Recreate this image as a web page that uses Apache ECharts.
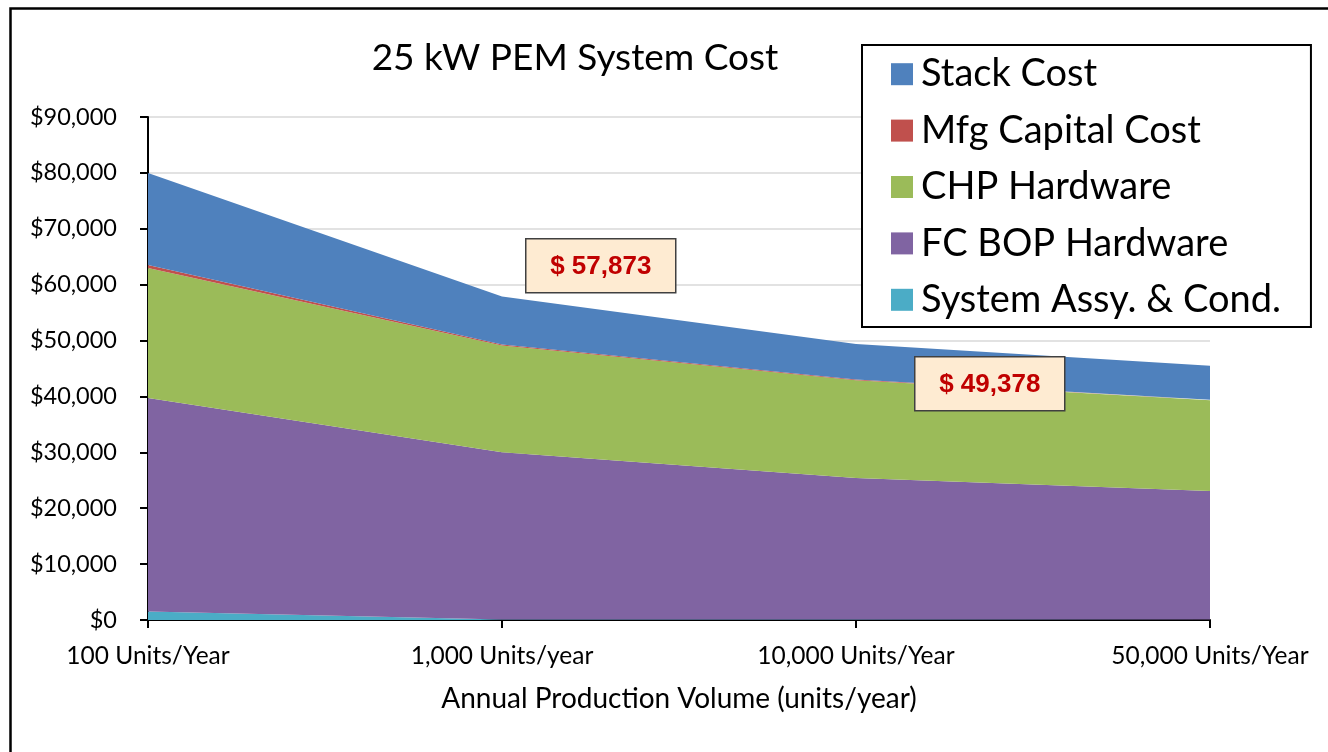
<!DOCTYPE html>
<html>
<head>
<meta charset="utf-8">
<title>25 kW PEM System Cost</title>
<script src="https://cdn.jsdelivr.net/npm/echarts@6/dist/echarts.min.js"></script>
<style>
  html, body { margin: 0; padding: 0; background: #fff; }
  #chart { width: 1328px; height: 752px; }
</style>
</head>
<body>
<div id="chart"></div>
<script>
// production volumes (x categories)
var categories = ['100 Units/Year', '1,000 Units/year', '10,000 Units/Year', '50,000 Units/Year']

// cost components, bottom of the stack first
var systemAssy = [1500, 100, 100, 100]
var fcBop = [38200, 29900, 25300, 23000]
var chpHardware = [23300, 19100, 17500, 16200]
var mfgCapital = [500, 200, 150, 100]
var stackCost = [16500, 8573, 6328, 6100]

// call-out labels
var callouts = ['$ 57,873', '$ 49,378']

var legendOrder = ['Stack Cost', 'Mfg Capital Cost', 'CHP Hardware', 'FC BOP Hardware', 'System Assy. & Cond.']

var chart = echarts.init(document.getElementById('chart'))

function areaSeries(name, data, color) {
  return {
    name: name,
    type: 'line',
    stack: 'total',
    data: data,
    symbol: 'none',
    smooth: false,
    itemStyle: { color: color },
    lineStyle: { width: 0, color: color },
    areaStyle: { color: color, opacity: 1 },
    emphasis: { disabled: true }
  }
}

function calloutBox(text, x, y) {
  return {
    type: 'group',
    left: x,
    top: y,
    z: 100,
    children: [
      {
        type: 'rect',
        z: 100,
        shape: { x: 0, y: 0, width: 150, height: 54 },
        style: { fill: '#FEEBD2', stroke: '#404040', lineWidth: 1.5 }
      },
      {
        type: 'text',
        z: 101,
        x: 75,
        y: 28,
        style: {
          text: text,
          fill: '#C00000',
          font: 'bold 26px "Liberation Sans", Arial, sans-serif',
          align: 'center',
          verticalAlign: 'middle'
        }
      }
    ]
  }
}

chart.setOption({
  animation: false,
  backgroundColor: '#fff',
  textStyle: { fontFamily: 'Lato, "Open Sans", sans-serif' },
  title: {
    text: '25 kW PEM System Cost',
    left: 570,
    top: 35,
    textAlign: 'center',
    textStyle: { fontSize: 37, fontWeight: 'normal', color: '#000', fontFamily: 'Lato' }
  },
  legend: {
    orient: 'vertical',
    left: 862,
    top: 45,
    data: legendOrder,
    icon: 'rect',
    itemWidth: 22,
    itemHeight: 22,
    itemGap: 16,
    padding: [9, 30, 7, 29],
    borderColor: '#000',
    borderWidth: 2,
    backgroundColor: '#fff',
    selectedMode: false,
    textStyle: { fontSize: 38, color: '#000', lineHeight: 40.4, fontFamily: 'Lato', padding: [0, 0, 0, 3] }
  },
  grid: {
    left: 148,
    right: 118,
    top: 117,
    bottom: 132,
    containLabel: false
  },
  xAxis: {
    type: 'category',
    data: categories,
    boundaryGap: false,
    name: 'Annual Production Volume (units/year)',
    nameLocation: 'middle',
    nameGap: 65,
    nameTextStyle: { fontSize: 28, color: '#000', fontFamily: 'Lato' },
    axisLine: { lineStyle: { color: '#000', width: 2 } },
    axisTick: { length: 8, lineStyle: { color: '#000', width: 2 } },
    axisLabel: { fontSize: 24.5, color: '#000', margin: 24, fontFamily: 'Lato' },
    splitLine: { show: false }
  },
  yAxis: {
    type: 'value',
    min: 0,
    max: 90000,
    interval: 10000,
    axisLine: { show: true, lineStyle: { color: '#000', width: 2 } },
    axisTick: { show: true, length: 8, lineStyle: { color: '#000', width: 2 } },
    axisLabel: {
      fontSize: 23.5,
      color: '#000',
      margin: 31,
      fontFamily: 'Lato',
      formatter: function (v) { return '$' + v.toLocaleString('en-US') }
    },
    splitLine: { lineStyle: { color: '#D9D9D9', width: 1.5 } }
  },
  series: [
    areaSeries('System Assy. & Cond.', systemAssy, '#4BACC6'),
    areaSeries('FC BOP Hardware', fcBop, '#8064A2'),
    areaSeries('CHP Hardware', chpHardware, '#9BBB59'),
    areaSeries('Mfg Capital Cost', mfgCapital, '#C0504D'),
    areaSeries('Stack Cost', stackCost, '#4F81BD')
  ],
  graphic: [
    {
      type: 'rect',
      left: 8,
      top: 6,
      shape: { x: 0, y: 0, width: 1340, height: 760 },
      style: { fill: 'none', stroke: '#000', lineWidth: 2.5 },
      z: 100
    },
    calloutBox(callouts[0], 525, 238),
    calloutBox(callouts[1], 914, 356)
  ]
})
</script>
</body>
</html>
